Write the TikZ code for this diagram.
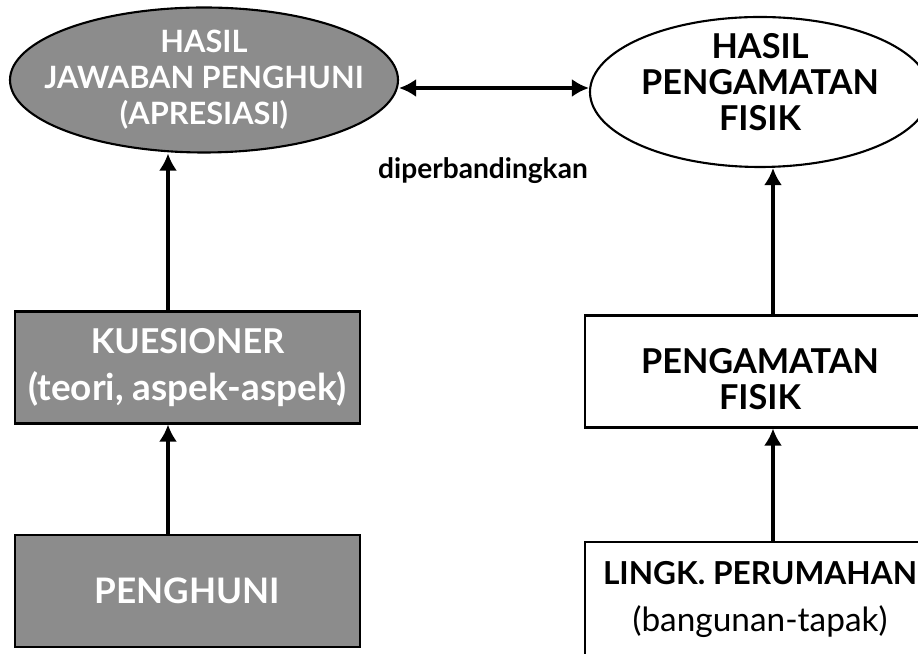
\documentclass[tikz,border=0pt]{standalone}
\usepackage{fontspec}
\setmainfont{Lato}
\usetikzlibrary{shapes.geometric}
\usetikzlibrary{arrows.meta}
\usetikzlibrary{calc}
\newcommand{\lftboxw}{6.9cm}
\newcommand{\rgtboxw}{7cm}
\newcommand{\boxh}{2.24cm}
\newcommand{\lftarrx}{-0.39cm}
\newcommand{\rgtarrx}{0.26cm}
\newcommand{\cmpy}{-0.16cm}
\newcommand{\fsz}[2]{\fontsize{#1}{#2}\selectfont}
\tikzset{
  bigfont/.style={font=\bfseries\fsz{20}{22}},
  graybox/.style={draw, line width=1.2pt, fill=black!45, text=white,
    bigfont, align=center, inner sep=0pt,
    minimum width=\lftboxw, minimum height=\boxh},
  whitebox/.style={draw, line width=1.2pt, fill=white, text=black,
    bigfont, align=center, inner sep=0pt,
    minimum width=\rgtboxw, minimum height=\boxh},
  grayell/.style={ellipse, draw, line width=1.2pt, fill=black!45,
    text=white, bigfont, align=center, inner xsep=-0.9cm,
    inner ysep=-0.6cm},
  whiteell/.style={ellipse, draw, line width=1.2pt, fill=white,
    text=black, bigfont, align=center, inner xsep=-0.9cm,
    inner ysep=-0.6cm},
  arr/.style={line width=1.8pt, -{Latex[length=0.34cm,width=0.36cm]}},
  dblarr/.style={line width=1.8pt,
    {Latex[length=0.34cm,width=0.36cm]}-{Latex[length=0.34cm,width=0.36cm]}}
}

\begin{document}
\begin{tikzpicture}
  \useasboundingbox (0,0) rectangle (18.36,13.08);
  \clip (0,0) rectangle (18.36,13.08);

  % left column
  \node[grayell, minimum width=7.76cm, minimum height=2.9cm,
    font=\bfseries\fsz{17.5}{20.5}]
    (hasiljwb) at (4.08,11.48) {HASIL\\JAWABAN PENGHUNI\\(APRESIASI)};
  \node[graybox, font=\bfseries\fsz{19.5}{26.7}] (kuesioner) at (3.75,5.73)
    {KUESIONER\\{\fsz{21}{26.7}(teori, aspek-aspek)}};
  \node[graybox] (penghuni) at (3.75,1.26) {PENGHUNI};

  % right column
  \node[whiteell, minimum width=6.8cm, minimum height=3.0cm,
    font=\bfseries\fsz{19.5}{20.5}]
    (hasilamat) at (15.2,11.24)
    {HASIL\\PENGAMATAN\\FISIK\rule[-0.4cm]{0pt}{0.4cm}};
  \node[whitebox, font=\bfseries\fsz{19.5}{20.5}] (amatfisik) at (15.2,5.65)
    {\rule{0pt}{0.8cm}PENGAMATAN\\FISIK};
  \node[whitebox, minimum height=2.3cm, font=\bfseries\fsz{18}{27}]
    (lingk) at (15.2,1.09)
    {LINGK. PERUMAHAN\hspace{0.32cm}\\{\mdseries\fsz{19}{27}(bangunan-tapak)}};

  \node[font=\bfseries\fsz{16}{18}] (banding) at (9.66,9.66)
    {diperbandingkan};

  % connectors
  \draw[arr] ([xshift=\lftarrx]penghuni.north)
    -- ([xshift=\lftarrx]kuesioner.south);
  \draw[arr] ([xshift=\lftarrx]kuesioner.north)
    -- ([xshift=\lftarrx]kuesioner.north |- hasiljwb.south);
  \draw[arr] ([xshift=\rgtarrx]lingk.north)
    -- ([xshift=\rgtarrx]amatfisik.south);
  \draw[arr] ([xshift=\rgtarrx]amatfisik.north)
    -- ([xshift=\rgtarrx]amatfisik.north |- hasilamat.south);
  \draw[dblarr] ([yshift=\cmpy]hasiljwb.east)
    -- ([yshift=\cmpy]hasiljwb.east -| hasilamat.west);
\end{tikzpicture}
\end{document}
